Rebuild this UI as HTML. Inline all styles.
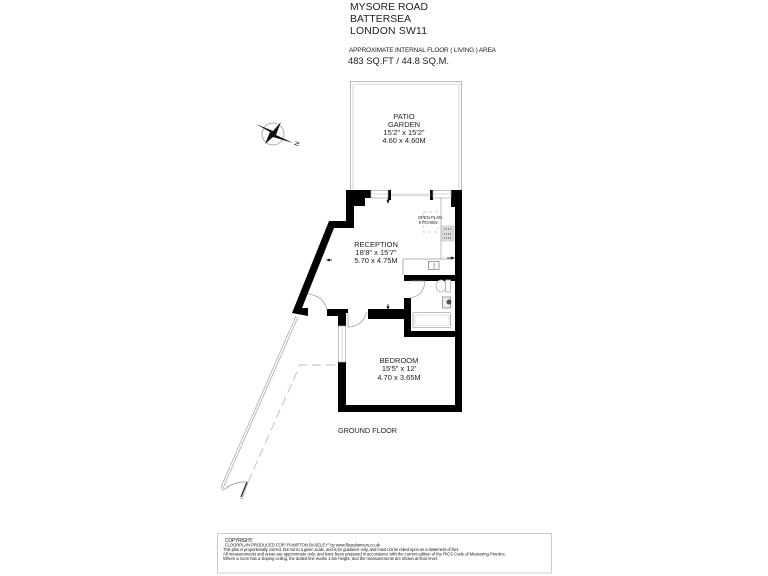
<!DOCTYPE html>
<html lang="en"><head><meta charset="utf-8"><title>Mysore Road floor plan</title>
<style>
html,body{margin:0;padding:0;background:#fff;width:768px;height:576px;overflow:hidden}
svg{display:block;filter:blur(.35px)}
text{font-family:"Liberation Sans",sans-serif;fill:#222}
.c{text-anchor:middle;font-size:7.5px}
</style></head><body>
<svg width="768" height="576" viewBox="0 0 768 576" xmlns="http://www.w3.org/2000/svg">
<rect width="768" height="576" fill="#fff"/>

<!-- Header -->
<text x="350" y="10" font-size="10.4" textLength="78">MYSORE ROAD</text>
<text x="350" y="22" font-size="10.4" textLength="61">BATTERSEA</text>
<text x="350" y="34" font-size="10.4" textLength="77">LONDON SW11</text>
<text x="349" y="52" font-size="6.5" textLength="147">APPROXIMATE INTERNAL FLOOR ( LIVING ) AREA</text>
<text x="348" y="64" font-size="9.4" textLength="101">483 SQ.FT / 44.8 SQ.M.</text>

<!-- Patio -->
<path d="M350.5 190V81.5H461.5V190" fill="none" stroke="#bbb" stroke-width="1"/>
<path d="M353 190V84H459V190" fill="none" stroke="#ccc" stroke-width=".8"/>
<text class="c" x="404" y="119">PATIO</text>
<text class="c" x="404" y="127">GARDEN</text>
<text class="c" x="404" y="135">15'2" x 15'2"</text>
<text class="c" x="404" y="143">4.60 x 4.60M</text>

<!-- Compass -->
<g>
<circle cx="273" cy="134" r="11" fill="none" stroke="#999" stroke-width=".8"/>
<path d="M256 124L273 131L281 122L276 135L293 143L273 137L265 144L270 132Z" fill="#111"/>
<text x="295" y="146" font-size="6.5" transform="rotate(-70 297 144)">N</text>
</g>

<!-- Garden lines -->
<path d="M296 316L221 487M298 317L223 488M221 487L223 490L225 489" fill="none" stroke="#aaa" stroke-width=".8"/>
<path d="M225 489Q235 481 247 482" fill="none" stroke="#999" stroke-width=".8"/>
<path d="M247 482L241 497" stroke="#333" stroke-width="1.4"/>
<path d="M248 483L242 499L240 498" fill="none" stroke="#aaa" stroke-width=".7"/>
<path d="M248 482L300 365H338" fill="none" stroke="#bbb" stroke-width=".9" stroke-dasharray="9 5"/>

<!-- Walls -->
<g fill="#000">
<path d="M346 190H371V198H365V206H354V228H334L302 308H308V316L292 313L329 221H346Z"/>
<path d="M451 190H462V412H338V362H346V405H455V337H404V319H368V309H404V298H411V331H455V281H404V275H455V207H451Z"/>
<path d="M327 309H348V313H346V326H338V316H327Z"/>
<rect x="388" y="190" width="3" height="10"/>
<rect x="430" y="190" width="3" height="10"/>
</g>

<!-- Windows and doors -->
<g fill="#fff" stroke="#aaa" stroke-width=".7">
<rect x="371" y="190.5" width="17" height="7.5"/>
<rect x="433" y="190.5" width="18" height="7.5"/>
<rect x="338.5" y="326" width="7" height="36"/>
</g>
<path d="M342 326V362M371 194H388M433 194H451" stroke="#ccc" stroke-width=".7"/>
<path d="M391 194H431M391 195.5H431" stroke="#aaa" stroke-width=".6"/>
<g fill="none" stroke="#999" stroke-width=".7">
<path d="M308 294Q324 296 327 310"/>
<path d="M348 313V327Q362 327 367 312"/>
<path d="M411 281H425Q424 296 410 298"/>
</g>

<!-- Kitchen -->
<path d="M441 198V259" stroke="#aaa" stroke-width=".8"/>
<path d="M452 259H403V275" fill="none" stroke="#999" stroke-width=".8"/>
<rect x="428.500" y="261.500" width="10.500" height="8" fill="#fff" stroke="#777" stroke-width=".7"/>
<path d="M434 263V269" stroke="#777" stroke-width=".7"/>
<rect x="442" y="226" width="12" height="15" fill="#ddd" stroke="#bbb" stroke-width=".5"/>
<path d="M444 229h8M444 234h8M444 238h8" stroke="#666" stroke-width="1.2" stroke-dasharray="1 1"/>
<rect x="423" y="212" width="15" height="20" fill="none" stroke="#bbb" stroke-width=".7" stroke-dasharray="3 3"/>
<text x="430" y="219" font-size="4.2" text-anchor="middle">OPEN PLAN</text>
<text x="428" y="224" font-size="4.2" text-anchor="middle">KITCHEN</text>

<!-- Bathroom -->
<ellipse cx="441" cy="286" rx="5" ry="6" fill="#fff" stroke="#aaa" stroke-width=".8"/>
<rect x="445.500" y="280" width="5" height="12" fill="#fff" stroke="#aaa" stroke-width=".8"/>
<rect x="442.500" y="297" width="8" height="11" fill="#eee" stroke="#888" stroke-width=".8"/>
<circle cx="449" cy="302" r="2.500" fill="#555"/>
<rect x="413" y="312.500" width="37.500" height="15" rx="1.500" fill="#fff" stroke="#aaa" stroke-width=".8"/>
<rect x="415" y="315" width="34" height="10.500" rx="2" fill="none" stroke="#ccc" stroke-width=".6"/>

<!-- Dimension arrows -->
<g stroke="#111" stroke-width=".7" fill="#111">
<path d="M388 198V203M387 200.500L388 203L389 200.500Z"/>
<path d="M447 258H454M451.500 257L454 258L451.500 259Z"/>
<path d="M388 304V309M387 306.500L388 309L389 306.500Z"/>
<path d="M327 260H332M329.500 259L327 260L329.500 261Z"/>
</g>

<!-- Room labels -->
<text class="c" x="376" y="247">RECEPTION</text>
<text class="c" x="376" y="255">18'8" x 15'7"</text>
<text class="c" x="376" y="263">5.70 x 4.75M</text>
<text class="c" x="399" y="363">BEDROOM</text>
<text class="c" x="399" y="371">15'5" x 12'</text>
<text class="c" x="399" y="380">4.70 x 3.65M</text>
<text x="338" y="433" font-size="7.3" textLength="59">GROUND FLOOR</text>

<!-- Footer -->
<rect x="217.500" y="533.500" width="334" height="39.500" fill="#fff" stroke="#ccc" stroke-width="1"/>
<text x="225" y="542" font-size="5" textLength="28">COPYRIGHT:</text>
<text x="225" y="546.500" font-size="4.300" textLength="155">FLOORPLAN PRODUCED FOR "RAMPTON BASELEY" by www.floorplanners.co.uk</text>
<text x="223" y="551" font-size="4.300" textLength="236">This plan is proportionally correct, but not to a given scale, and is for guidance only, and must not be relied upon as a statement of fact.</text>
<text x="223" y="555.500" font-size="4.300" textLength="283">All measurements and areas are approximate only, and have been prepared in accordance with the current edition of the RICS Code of Measuring Practice.</text>
<text x="223" y="560" font-size="4.300" textLength="215">Where a room has a sloping ceiling, the dotted line marks 1.5m height, and the measurements are shown at floor level.</text>
</svg>
</body></html>
